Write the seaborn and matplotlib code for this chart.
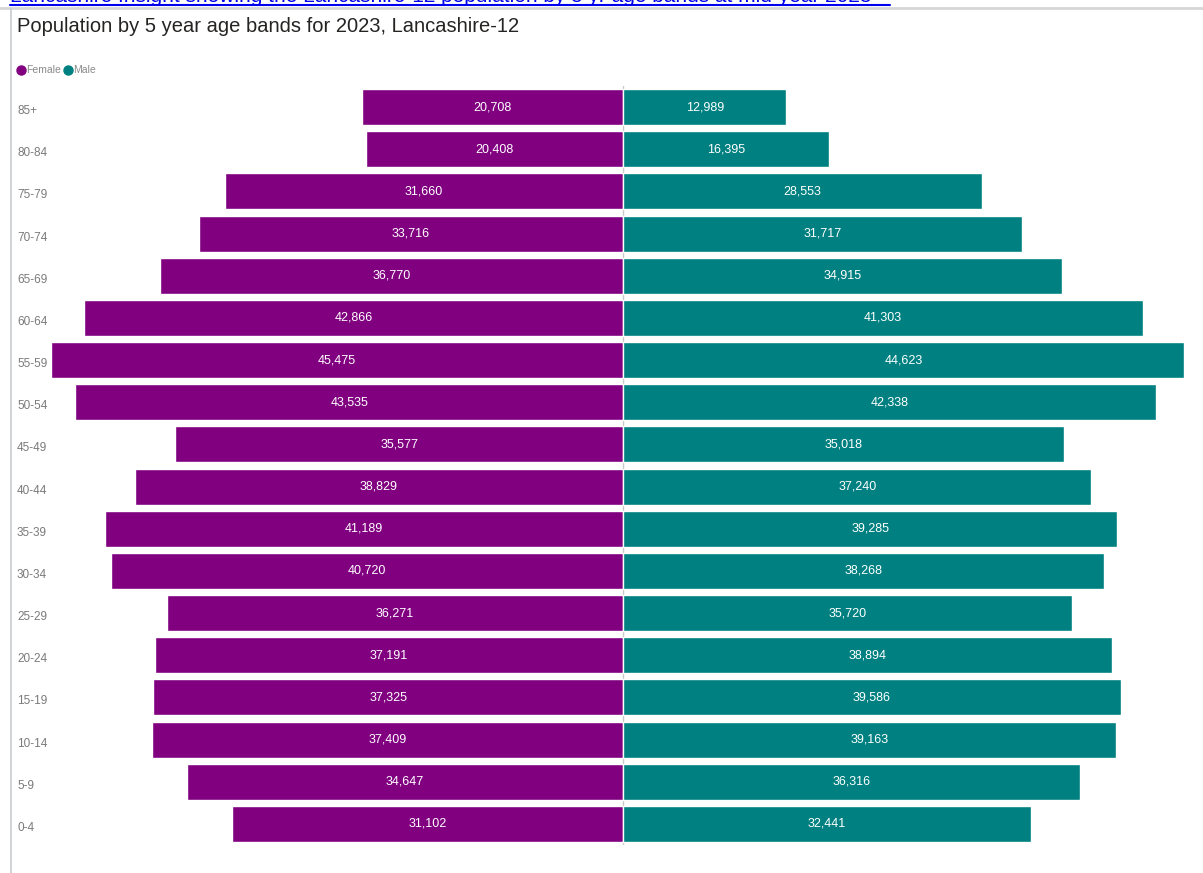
import matplotlib
matplotlib.use("Agg")
import matplotlib.pyplot as plt
import matplotlib.transforms as mtransforms
from matplotlib.lines import Line2D
import seaborn as sns
import pandas as pd

# Population by 5-year age band, mid-2023, Lancashire-12
age_bands = ["85+", "80-84", "75-79", "70-74", "65-69", "60-64", "55-59", "50-54",
             "45-49", "40-44", "35-39", "30-34", "25-29", "20-24", "15-19", "10-14",
             "5-9", "0-4"]
female = [20708, 20408, 31660, 33716, 36770, 42866, 45475, 43535, 35577, 38829,
          41189, 40720, 36271, 37191, 37325, 37409, 34647, 31102]
male = [12989, 16395, 28553, 31717, 34915, 41303, 44623, 42338, 35018, 37240,
        39285, 38268, 35720, 38894, 39586, 39163, 36316, 32441]
sexes = ["Female", "Male"]
colours = {"Female": "#800080", "Male": "#008080"}

title = "Population by 5 year age bands for 2023, Lancashire-12"
link_text = ("Lancashire Insight showing the Lancashire-12 population by "
             "5 yr age bands at mid-year 2023")

sns.set_theme(style="white")
plt.rcParams["font.family"] = ["Liberation Sans", "DejaVu Sans"]

df = pd.DataFrame({
    "age": age_bands * 2,
    "sex": ["Female"] * len(age_bands) + ["Male"] * len(age_bands),
    "count": female + male,
})
df["signed"] = df.apply(lambda r: -r["count"] if r["sex"] == "Female" else r["count"], axis=1)

W, H = 1203, 873
fig = plt.figure(figsize=(W / 100, H / 100), dpi=100)
ax = fig.add_axes([40 / W, 28 / H, 1155 / W, 759 / H])

ax.axvline(0, color="#c8c8c8", lw=1, zorder=0)
sns.barplot(data=df, y="age", x="signed", hue="sex", order=age_bands,
            hue_order=sexes, palette=colours, dodge=False, orient="h",
            width=0.855, saturation=1, legend=False, ax=ax, zorder=2)

for cont, sex in zip(ax.containers, sexes):
    vals = df[df["sex"] == sex]["count"].tolist()
    ax.bar_label(cont, labels=[f"{v:,}" for v in vals], label_type="center",
                 color="white", fontsize=9)

ax.set_xlim(-46343, 45469)
ax.set_ylim(len(age_bands) - 0.5, -0.5)
ax.set_xticks([])
ax.set_yticks([])
ax.set_xlabel("")
ax.set_ylabel("")
for s in ax.spines.values():
    s.set_visible(False)

# age band labels, left aligned at the panel edge
lbl_tr = mtransforms.blended_transform_factory(fig.transFigure, ax.transData) + \
    mtransforms.ScaledTranslation(0, -4 / 100, fig.dpi_scale_trans)
for i, a in enumerate(age_bands):
    ax.text(17 / W, i, a, transform=lbl_tr, ha="left", va="center",
            fontsize=8.5, color="#7a7a7a")

# panel frame lines
fig.add_artist(Line2D([0, 1], [1 - 8 / H, 1 - 8 / H], transform=fig.transFigure,
                      color="#d4d6d8", lw=2))
fig.add_artist(Line2D([11 / W, 11 / W], [0, 1 - 8 / H], transform=fig.transFigure,
                      color="#c8ccd0", lw=1.2))

# heading link, partly cut off at the top
fig.text(10 / W, 1 - 2.5 / H, link_text, ha="left", va="baseline", fontsize=15,
         color="#0000ee")
fig.add_artist(Line2D([10 / W, 890 / W], [1 - 4.5 / H, 1 - 4.5 / H],
                      transform=fig.transFigure, color="#0000ee", lw=1.5))

fig.text(17 / W, 1 - 27 / H, title, ha="left", va="center", fontsize=14.5,
         color="#252423")

# legend
for x0, sex in [(21, "Female"), (68, "Male")]:
    fig.add_artist(Line2D([x0 / W], [1 - 70 / H], marker="o", markersize=6.5,
                          color=colours[sex], transform=fig.transFigure, lw=0))
    fig.text((x0 + 5) / W, 1 - 70 / H, sex, ha="left", va="center",
             fontsize=7.5, color="#8a8a8a")

fig.savefig("out.png", dpi=100, facecolor="white")
